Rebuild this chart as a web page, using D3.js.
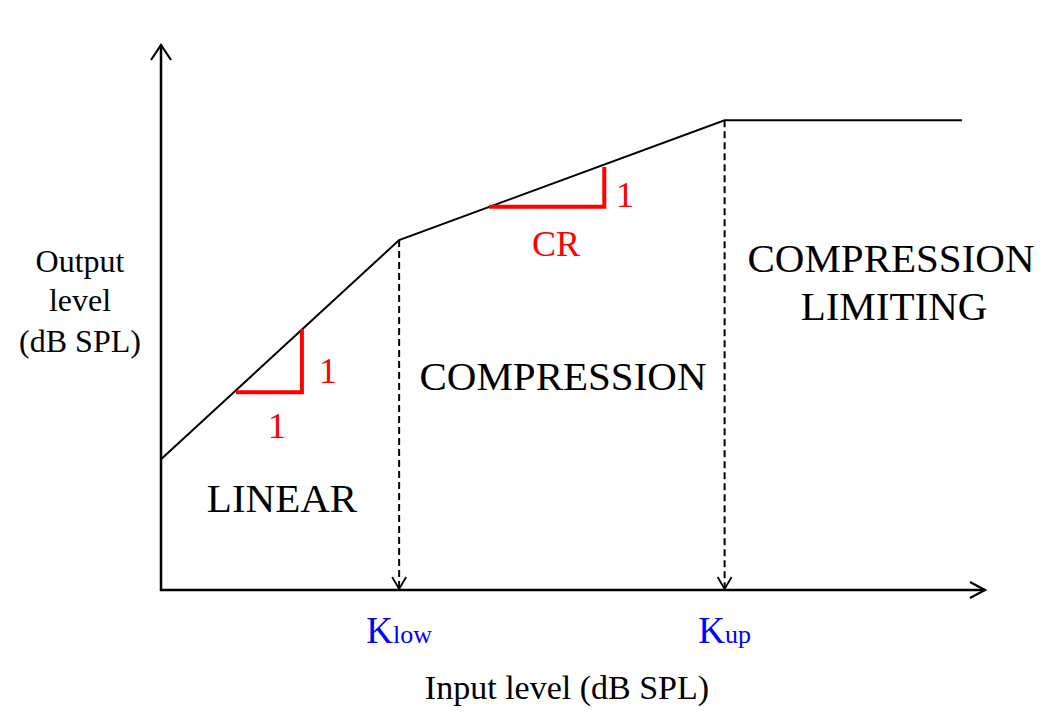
<!DOCTYPE html>
<html><head><meta charset="utf-8">
<script src="https://cdn.jsdelivr.net/npm/d3@7"></script>
<style>html,body{margin:0;padding:0;background:#fff;}svg{display:block;}</style>
</head><body>
<script>
// Data (schematic, arbitrary dB units 0..100)
const curveInput = [0, 28.9, 68.4, 97.2];
const curveOutput = [24.0, 64.2, 86.2, 86.2];
const kneeNames = ["low", "up"];
const kneeInput = [28.9, 68.4];
const kneeOutput = [64.2, 86.2];
const tri1 = {x0: 9.1, x1: 17.1, y0: 36.3, y1: 47.9};
const tri2 = {x0: 39.8, x1: 53.8, y0: 70.3, y1: 77.6};
const regionLabels = ["LINEAR", "COMPRESSION", "COMPRESSION", "LIMITING"];
const yLabelLines = ["Output", "level", "(dB SPL)"];
const xLabel = "Input level (dB SPL)";

const W = 1063, H = 727;
const svg = d3.select("body").append("svg").attr("width", W).attr("height", H);
const x = d3.scaleLinear().domain([0, 100]).range([161, 985]);
const y = d3.scaleLinear().domain([0, 100]).range([590, 45]);
const font = "'Liberation Serif','Times New Roman',serif";

// axes
const axisW = 2.5;
svg.append("line").attr("x1", x(0)).attr("x2", x(0)).attr("y1", y(0)+1).attr("y2", y(100))
  .attr("stroke", "#000").attr("stroke-width", axisW);
svg.append("line").attr("x1", x(0)-1).attr("x2", x(100)).attr("y1", y(0)).attr("y2", y(0))
  .attr("stroke", "#000").attr("stroke-width", axisW);
// arrowheads (open)
function vee(tipX, tipY, dx1, dy1, dx2, dy2, w) {
  svg.append("path")
    .attr("d", `M${tipX+dx1},${tipY+dy1}L${tipX},${tipY}L${tipX+dx2},${tipY+dy2}`)
    .attr("fill", "none").attr("stroke", "#000").attr("stroke-width", w)
    .attr("stroke-linejoin", "miter");
}
vee(x(0), y(100), -10, 15, 10, 15, 2.2);
vee(x(100), y(0), -15, -8, -15, 8, 2.2);

// curve
const line = d3.line().x((d, i) => x(curveInput[i])).y((d, i) => y(curveOutput[i]));
svg.append("path").datum(curveInput).attr("d", line)
  .attr("fill", "none").attr("stroke", "#000").attr("stroke-width", 2);

// dashed knee lines
kneeInput.forEach((k, i) => {
  svg.append("line").attr("x1", x(k)).attr("x2", x(k)).attr("y1", y(kneeOutput[i])).attr("y2", y(0) - 2)
    .attr("stroke", "#000").attr("stroke-width", 2).attr("stroke-dasharray", "7,4");
  vee(x(k), y(0) - 1, -7, -12, 7, -12, 1.8);
});

// red slope triangles
[tri1, tri2].forEach(t => {
  svg.append("path")
    .attr("d", `M${x(t.x0)},${y(t.y0)}L${x(t.x1)},${y(t.y0)}L${x(t.x1)},${y(t.y1)}`)
    .attr("fill", "none").attr("stroke", "#ff0000").attr("stroke-width", 4)
    .attr("stroke-linejoin", "miter");
});

function txt(s, cx, by, size, color, anchor) {
  return svg.append("text").attr("x", cx).attr("y", by).attr("text-anchor", anchor || "middle")
    .attr("font-family", font).attr("font-size", size).attr("fill", color || "#000").text(s);
}
// red annotations
txt("1", 328, 383, 36, "#ff0000");
txt("1", 277, 438, 36, "#ff0000");
txt("1", 625, 207, 36, "#ff0000");
txt("CR", 556, 256, 36, "#ff0000");

// region labels
txt(regionLabels[0], 282, 512, 41);
txt(regionLabels[1], 563, 390, 41);
txt(regionLabels[2], 891, 272, 41);
txt(regionLabels[3], 894, 320, 41);

// y label
yLabelLines.forEach((s, i) => txt(s, 80, [272, 311, 352][i], 32));
// x label
txt(xLabel, 567, 699, 34);

// knee labels
kneeNames.forEach((n, i) => {
  const t = svg.append("text").attr("x", x(kneeInput[i])).attr("y", 643).attr("text-anchor", "middle")
    .attr("font-family", font).attr("fill", "#0000ff");
  t.append("tspan").attr("font-size", 37).text("K");
  t.append("tspan").attr("font-size", 26).text(n);
});
</script>
</body></html>
